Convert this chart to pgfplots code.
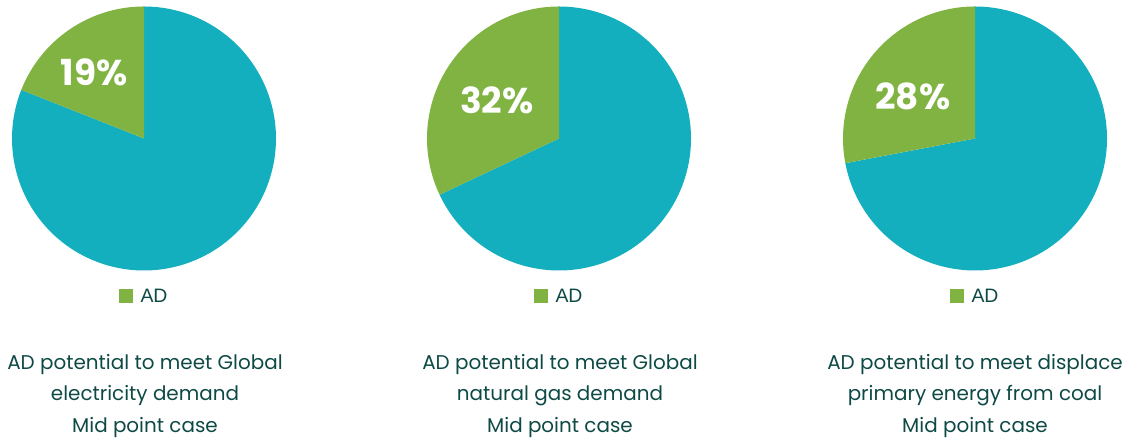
\documentclass[border=0pt]{standalone}
\usepackage{pgfplots}
\pgfplotsset{compat=1.18}
\usepgfplotslibrary{polar}
\usepackage{fontspec}
\setmainfont{Poppins}
\newfontfamily\arialfont{Liberation Sans}
\definecolor{pieteal}{HTML}{13AFBF}
\definecolor{adgreen}{HTML}{80B342}
\definecolor{titlecol}{HTML}{0E4A45}

% #1 centre x (bp), #2 AD share (%), #3 label angle, #4 label radius
\newcommand{\pie}[4]{%
\begin{polaraxis}[at={(#1bp,300.5bp)}, anchor=center,
  width=264bp, height=264bp, scale only axis, hide axis,
  xmin=0, xmax=360, ymin=0, ymax=1, clip=false,
  legend style={draw=none, fill=none, at={(0.5,0)}, anchor=north, yshift=-16bp,
    font=\arialfont\fontsize{19.5}{20}\selectfont, text=titlecol,
    inner sep=0pt, /tikz/every even column/.append style={column sep=4bp}},
  legend image code/.code={\fill[adgreen] (0bp,-7bp) rectangle (14bp,7bp);},
  ]
\addplot[draw=none, fill=pieteal, domain={90+3.6*#2}:450, samples=200, forget plot] {1} -- (axis cs:0,0) -- cycle;
\addplot[draw=none, fill=adgreen, domain=90:{90+3.6*#2}, samples=100] {1} -- (axis cs:0,0) -- cycle;
\addlegendentry{\hspace{6bp}AD}
\node[text=white, font=\bfseries\fontsize{36}{40}\selectfont] at (axis cs:#3,#4) {#2\%};
\end{polaraxis}}

\begin{document}
\begin{tikzpicture}[x=1bp,y=1bp]
\useasboundingbox (0,0) rectangle (1126,439);
\pie{144}{19}{127}{0.63}
\pie{559}{32}{148.2}{0.553}
\pie{975}{28}{145.6}{0.57}
\tikzset{ttl/.style={align=center, text=titlecol, font=\fontsize{20}{32}\selectfont}}
\node[ttl] at (145,43) {AD potential to meet Global\\electricity demand\\Mid point case};
\node[ttl] at (560,43) {AD potential to meet Global\\natural gas demand\\Mid point case};
\node[ttl] at (975,43) {AD potential to meet displace\\primary energy from coal\\Mid point case};
\end{tikzpicture}
\end{document}
